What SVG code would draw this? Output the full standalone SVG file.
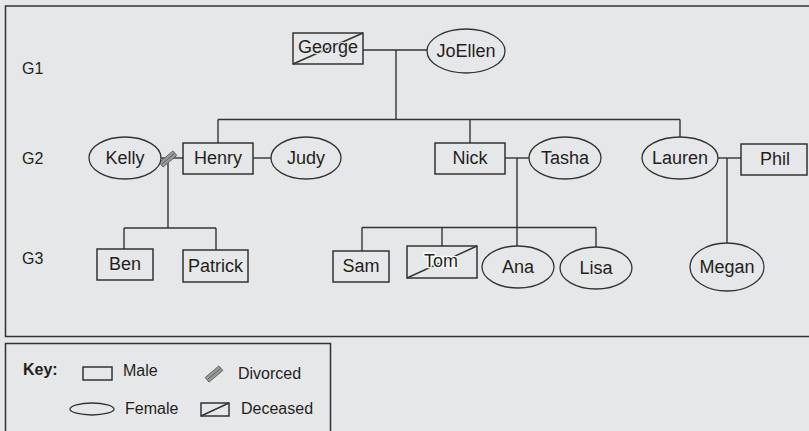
<svg xmlns="http://www.w3.org/2000/svg" width="809" height="431" viewBox="0 0 809 431">
<style>
.bg{fill:#e6e7e8}
.frame{fill:none;stroke:#333;stroke-width:1.5}
.m{fill:#e6e7e8;stroke:#333;stroke-width:1.5}
.f{fill:#e6e7e8;stroke:#333;stroke-width:1.3}
.ln{fill:none;stroke:#333;stroke-width:1.4}
.t{font-family:"Liberation Sans",Arial,sans-serif;font-size:18px;fill:#231f20;text-anchor:middle;dominant-baseline:central}
.g{font-family:"Liberation Sans",Arial,sans-serif;font-size:16px;fill:#231f20}
.k{font-family:"Liberation Sans",Arial,sans-serif;font-size:16px;fill:#231f20}
.halo{paint-order:stroke;stroke:#fff;stroke-width:2.5}
.div{fill:#9a9a9a;stroke:#555;stroke-width:0.8}
</style>
<defs>
<g id="divsym">
<rect x="-9" y="-3" width="18" height="6" class="div"/>
<line x1="-8" y1="0" x2="8" y2="0" stroke="#555" stroke-width="0.8"/>
</g>
</defs>
<rect class="bg" x="0" y="0" width="809" height="431"/>
<rect class="frame" x="5.5" y="6" width="812" height="330.5"/>
<rect class="frame" x="5.5" y="343.5" width="325" height="100"/>

<text class="g" x="22" y="74">G1</text>
<text class="g" x="22" y="164">G2</text>
<text class="g" x="22" y="264">G3</text>

<g id="connectors">
<line class="ln" x1="363" y1="50" x2="428" y2="50"/>
<line class="ln" x1="396" y1="50" x2="396" y2="119.5"/>
<line class="ln" x1="218" y1="119.5" x2="680" y2="119.5"/>
<line class="ln" x1="218" y1="119.5" x2="218" y2="143"/>
<line class="ln" x1="470" y1="119.5" x2="470" y2="143"/>
<line class="ln" x1="680" y1="119.5" x2="680" y2="137"/>
<line class="ln" x1="161" y1="158" x2="183" y2="158"/>
<line class="ln" x1="253" y1="158" x2="271" y2="158"/>
<line class="ln" x1="168" y1="160" x2="168" y2="228"/>
<line class="ln" x1="124" y1="228" x2="216" y2="228"/>
<line class="ln" x1="124" y1="228" x2="124" y2="249"/>
<line class="ln" x1="216" y1="228" x2="216" y2="250"/>
<line class="ln" x1="505" y1="158" x2="529" y2="158"/>
<line class="ln" x1="517" y1="158" x2="517" y2="247"/>
<line class="ln" x1="362" y1="227.5" x2="596" y2="227.5"/>
<line class="ln" x1="362" y1="227.5" x2="362" y2="251"/>
<line class="ln" x1="442" y1="227.5" x2="442" y2="246"/>
<line class="ln" x1="596" y1="227.5" x2="596" y2="247"/>
<line class="ln" x1="717" y1="158" x2="741" y2="158"/>
<line class="ln" x1="727" y1="158" x2="727" y2="243"/>
<use href="#divsym" transform="translate(168,159) rotate(-40)"/>
</g>

<g id="george">
<rect class="m" x="293" y="33" width="70" height="31"/>
<line class="ln" x1="293" y1="64" x2="363" y2="33"/>
<text class="t" x="328" y="47" style="paint-order:stroke;stroke:#e6e7e8;stroke-width:2">George</text>
</g>
<g id="joellen">
<ellipse class="f" cx="466" cy="51" rx="39" ry="22"/>
<text class="t" x="466" y="51">JoEllen</text>
</g>

<g id="kelly">
<ellipse class="f" cx="125" cy="158" rx="36" ry="21"/>
<text class="t" x="125" y="158">Kelly</text>
</g>
<g id="henry">
<rect class="m" x="183" y="143" width="70" height="31"/>
<text class="t" x="218" y="158">Henry</text>
</g>
<g id="judy">
<ellipse class="f" cx="306" cy="158" rx="35" ry="21"/>
<text class="t" x="306" y="158">Judy</text>
</g>
<g id="nick">
<rect class="m" x="435" y="143" width="70" height="31"/>
<text class="t" x="470" y="158">Nick</text>
</g>
<g id="tasha">
<ellipse class="f" cx="565" cy="158" rx="36" ry="21"/>
<text class="t" x="565" y="158">Tasha</text>
</g>
<g id="lauren">
<ellipse class="f" cx="680" cy="158" rx="38" ry="21"/>
<text class="t" x="680" y="158">Lauren</text>
</g>
<g id="phil">
<rect class="m" x="741" y="144" width="66" height="31"/>
<text class="t" x="775" y="159">Phil</text>
</g>

<g id="ben">
<rect class="m" x="97" y="249" width="56" height="31"/>
<text class="t" x="125" y="264">Ben</text>
</g>
<g id="patrick">
<rect class="m" x="183" y="250" width="65" height="32"/>
<text class="t" x="215.5" y="266">Patrick</text>
</g>
<g id="sam">
<rect class="m" x="333" y="251" width="56" height="31"/>
<text class="t" x="361" y="266">Sam</text>
</g>
<g id="tom">
<rect class="m" x="407" y="246" width="70" height="32"/>
<line class="ln" x1="407" y1="278" x2="477" y2="246"/>
<text class="t halo" x="441" y="261">Tom</text>
</g>
<g id="ana">
<ellipse class="f" cx="518" cy="267" rx="36" ry="21"/>
<text class="t" x="518" y="267">Ana</text>
</g>
<g id="lisa">
<ellipse class="f" cx="596" cy="268" rx="36" ry="21"/>
<text class="t" x="596" y="268">Lisa</text>
</g>
<g id="megan">
<ellipse class="f" cx="727" cy="267" rx="37" ry="24"/>
<text class="t" x="727" y="267">Megan</text>
</g>

<g id="key">
<text class="k" x="23" y="375" font-weight="bold" font-size="15">Key:</text>
<rect class="m" x="83" y="367" width="29" height="13" stroke-width="1.2"/>
<text class="k" x="123" y="376">Male</text>
<use href="#divsym" transform="translate(214,374) rotate(-40)"/>
<text class="k" x="238" y="379">Divorced</text>
<ellipse class="f" cx="92" cy="409" rx="22" ry="6" stroke-width="1.2"/>
<text class="k" x="125" y="414">Female</text>
<rect class="m" x="201" y="403" width="28" height="13" stroke-width="1.2"/>
<line class="ln" x1="201" y1="416" x2="229" y2="403" stroke-width="1.1"/>
<text class="k" x="241" y="414">Deceased</text>
</g>
</svg>
